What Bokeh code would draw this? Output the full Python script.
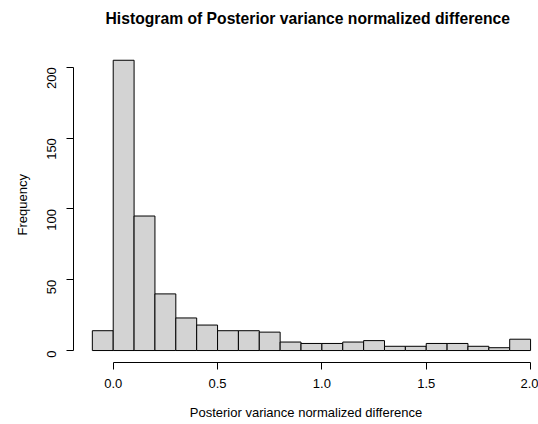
from bokeh.plotting import figure
from bokeh.models import Range1d, FixedTicker, Title, NumeralTickFormatter
from bokeh.embed import file_html
from bokeh.resources import INLINE
import math

# Data
bin_left = [-0.1, 0.0, 0.1, 0.2, 0.3, 0.4, 0.5, 0.6, 0.7, 0.8, 0.9,
            1.0, 1.1, 1.2, 1.3, 1.4, 1.5, 1.6, 1.7, 1.8, 1.9]
bin_right = [0.0, 0.1, 0.2, 0.3, 0.4, 0.5, 0.6, 0.7, 0.8, 0.9, 1.0,
             1.1, 1.2, 1.3, 1.4, 1.5, 1.6, 1.7, 1.8, 1.9, 2.0]
counts = [14, 205, 95, 40, 23, 18, 14, 14, 13, 6, 5,
          5, 6, 7, 3, 3, 5, 5, 3, 2, 8]
x_ticks = [0.0, 0.5, 1.0, 1.5, 2.0]
y_ticks = [0, 50, 100, 150, 200]

title_text = "Histogram of Posterior variance normalized difference"
x_label = "Posterior variance normalized difference"
y_label = "Frequency"

FONT = "Liberation Sans"

p = figure(width=538, height=424, output_backend="svg", toolbar_location=None,
           x_range=Range1d(-0.1903, 2.038), y_range=Range1d(-8.45, 223.9),
           min_border_left=73, min_border_right=0, min_border_top=32,
           min_border_bottom=62, title=None)

p.quad(left=bin_left, right=bin_right, bottom=0, top=counts,
       fill_color="#D3D3D3", line_color="black", line_width=1)

p.xgrid.visible = False
p.ygrid.visible = False
p.outline_line_color = None
p.background_fill_color = "white"
p.border_fill_color = "white"

for ax in (p.xaxis[0], p.yaxis[0]):
    ax.axis_line_color = "black"
    ax.major_tick_line_color = "black"
    ax.minor_tick_line_color = None
    ax.major_tick_out = 7
    ax.major_tick_in = 0
    ax.major_label_text_font = FONT
    ax.major_label_text_font_size = "13px"
    ax.major_label_text_color = "black"
    ax.axis_label_text_font = FONT
    ax.axis_label_text_font_size = "13px"
    ax.axis_label_text_font_style = "normal"
    ax.axis_label_text_color = "black"

p.xaxis.ticker = FixedTicker(ticks=x_ticks)
p.xaxis.bounds = (x_ticks[0], x_ticks[-1])
p.xaxis.formatter = NumeralTickFormatter(format="0.0")
p.xaxis.major_label_standoff = 9
p.xaxis.axis_label = x_label
p.xaxis.axis_label_standoff = 14

p.yaxis.ticker = FixedTicker(ticks=y_ticks)
p.yaxis.bounds = (y_ticks[0], y_ticks[-1])
p.yaxis.major_label_orientation = math.pi / 2
p.yaxis.major_label_standoff = 15

p.add_layout(Title(text=y_label, align="left", offset=127, text_font=FONT,
                   text_font_size="13px", text_font_style="normal",
                   text_color="black", standoff=20), "left")
p.add_layout(Title(text=title_text, align="left", offset=32, text_font=FONT,
                   text_font_size="15.7px", text_font_style="bold",
                   text_color="black", standoff=14), "above")

open("out.html", "w").write(file_html(p, INLINE))
